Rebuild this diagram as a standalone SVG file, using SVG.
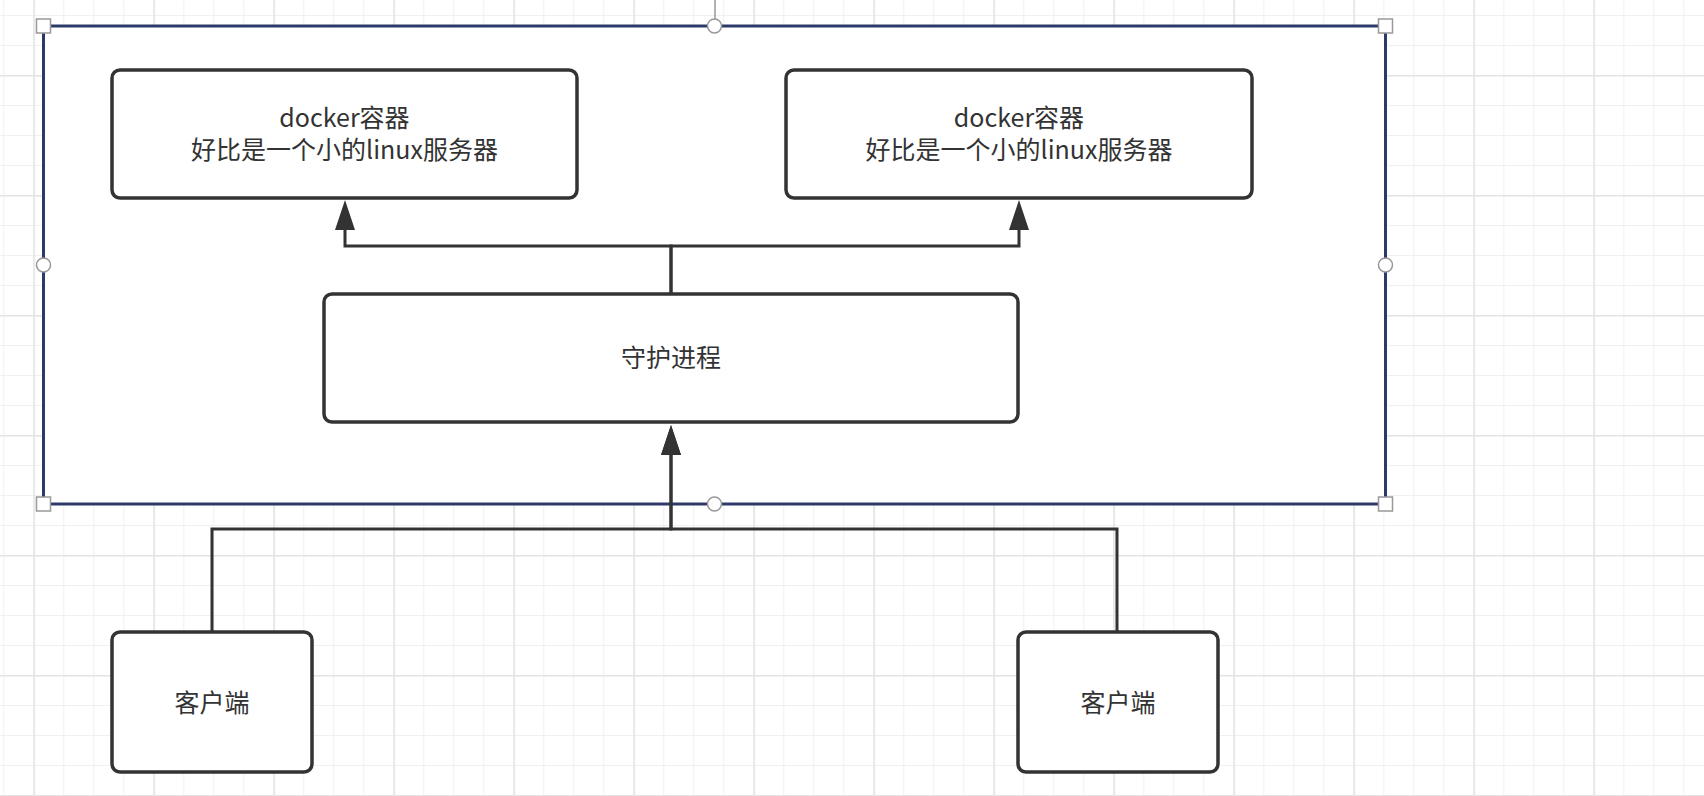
<svg xmlns="http://www.w3.org/2000/svg" width="1704" height="796" viewBox="0 0 1704 796">
  <defs>
    <pattern id="gridMinor" x="3.3" y="15" width="30" height="30" patternUnits="userSpaceOnUse">
      <path d="M0.5,0 V30 M0,0.5 H30" fill="none" stroke="#f0f0f0" stroke-width="1"/>
    </pattern>
    <pattern id="gridMajor" x="33.3" y="75" width="120" height="120" patternUnits="userSpaceOnUse">
      <path d="M0.75,0 V120 M0,0.75 H120" fill="none" stroke="#e3e3e3" stroke-width="1.5"/>
    </pattern>
    <marker id="arrow" markerUnits="userSpaceOnUse" markerWidth="30" markerHeight="20" refX="0" refY="10" orient="auto">
      <path d="M0,0 L30,10 L0,20 z" fill="#333333"/>
    </marker>
    <style>
      .node { fill: #ffffff; stroke: #333333; stroke-width: 3.5; }
      .label { font-family: "Noto Sans CJK SC", "Noto Sans", sans-serif; font-size: 25px; fill: #333333; text-anchor: middle; }
      .conn { fill: none; stroke: #333333; stroke-width: 3; marker-end: url(#arrow); }
      .handle { fill: #ffffff; stroke: #999999; stroke-width: 1.5; }
    </style>
  </defs>

  <rect x="0" y="0" width="1704" height="796" fill="#ffffff"/>
  <rect x="0" y="0" width="1704" height="796" fill="url(#gridMinor)"/>
  <rect x="0" y="0" width="1704" height="796" fill="url(#gridMajor)"/>

  <g id="host">
    <rect x="43.5" y="26" width="1342" height="478" fill="#ffffff" stroke="#2c3a6a" stroke-width="3"/>
  </g>

  <g id="container-left">
    <rect class="node" x="112" y="70" width="465" height="128" rx="8"/>
    <text class="label" x="344.5" y="127">docker容器<tspan x="344.5" dy="32">好比是一个小的linux服务器</tspan></text>
  </g>

  <g id="container-right">
    <rect class="node" x="786" y="70" width="466" height="128" rx="8"/>
    <text class="label" x="1019" y="127">docker容器<tspan x="1019" dy="32">好比是一个小的linux服务器</tspan></text>
  </g>

  <g id="daemon">
    <rect class="node" x="324" y="294" width="694" height="128" rx="8"/>
    <text class="label" x="671" y="367">守护进程</text>
  </g>

  <g id="client-left">
    <rect class="node" x="112" y="632" width="200" height="140" rx="8"/>
    <text class="label" x="212" y="712">客户端</text>
  </g>

  <g id="client-right">
    <rect class="node" x="1018" y="632" width="200" height="140" rx="8"/>
    <text class="label" x="1118" y="712">客户端</text>
  </g>

  <g id="connectors">
    <path class="conn" d="M671,294 V246 H345 V230"/>
    <path class="conn" d="M671,294 V246 H1019 V230"/>
    <path class="conn" d="M212,632 V529 H671 V455"/>
    <path class="conn" d="M1117,632 V529 H671 V455"/>
  </g>

  <g id="selection-handles">
    <line x1="715" y1="0" x2="715" y2="19" stroke="#999999" stroke-width="1.5"/>
    <rect class="handle" x="36.5" y="19" width="14" height="14"/>
    <rect class="handle" x="1378.5" y="19" width="14" height="14"/>
    <rect class="handle" x="36.5" y="497" width="14" height="14"/>
    <rect class="handle" x="1378.5" y="497" width="14" height="14"/>
    <circle class="handle" cx="714.5" cy="26" r="7"/>
    <circle class="handle" cx="43.5" cy="265" r="7"/>
    <circle class="handle" cx="1385.5" cy="265" r="7"/>
    <circle class="handle" cx="714.5" cy="504" r="7"/>
  </g>
</svg>
